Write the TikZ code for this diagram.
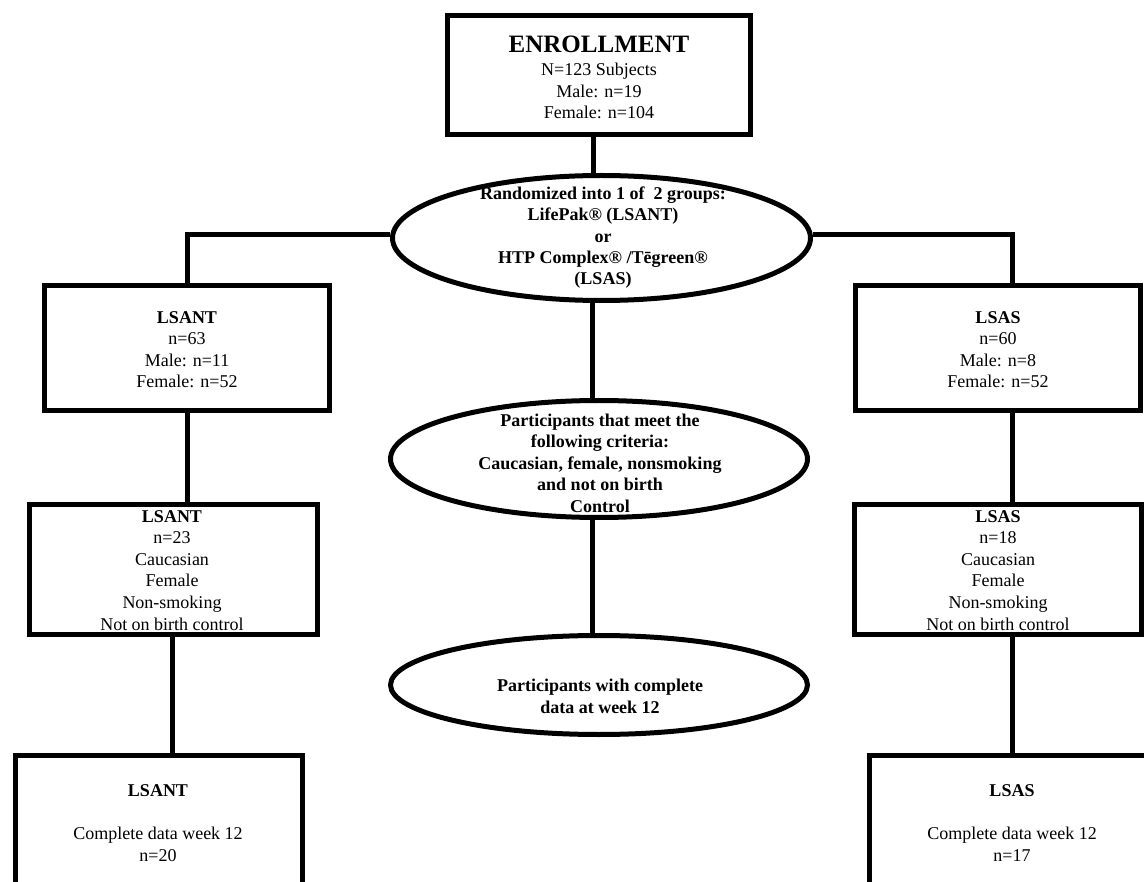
\documentclass[tikz,border=0pt]{standalone}
\usepackage{fontspec}
\setmainfont{Liberation Serif}
\usetikzlibrary{shapes.geometric}
\begin{document}
\begin{tikzpicture}[x=1pt,y=-1pt,
  box/.style={draw,line width=5pt,rectangle,inner sep=0pt},
  oval/.style={draw,line width=5pt,ellipse,inner sep=0pt},
  txt/.style={align=center,inner sep=0pt,anchor=base,font=\fontsize{18}{21.6}\selectfont},
  btxt/.style={txt,font=\fontsize{18}{21.4}\selectfont\bfseries},
  conn/.style={line width=5pt}]
\useasboundingbox (0,0) rectangle (1144,882);
\clip (0,0) rectangle (1144,882);
\fill[white] (0,0) rectangle (1144,882);

% shapes
\node[box,minimum width=303pt,minimum height=119pt] (enr) at (599,75) {};
\node[oval,minimum width=418pt,minimum height=125pt] (e1) at (601.5,238) {};
\node[box,minimum width=285pt,minimum height=125pt] (lsant1) at (187,348) {};
\node[box,minimum width=285pt,minimum height=125pt] (lsas1) at (998,348) {};
\node[oval,minimum width=417pt,minimum height=117pt] (e2) at (599,459) {};
\node[box,minimum width=288pt,minimum height=130pt] (lsant2) at (173.5,569.5) {};
\node[box,minimum width=287pt,minimum height=130pt] (lsas2) at (998,569.5) {};
\node[oval,minimum width=417pt,minimum height=99pt] (e3) at (599,685) {};
\node[box,minimum width=287pt,minimum height=165pt] (lsant3) at (159,838) {};
\node[box,minimum width=285pt,minimum height=165pt] (lsas3) at (1012,838) {};

% texts (anchored at the baseline of the last line)
\node[txt] (tenr) at (599,119) {{\fontsize{25}{25}\selectfont\bfseries ENROLLMENT}\\[1.5pt]N=123 Subjects\\Male: n=19\\Female: n=104};
\node[btxt] (te1) at (603,285) {Randomized into 1 of~ 2 groups:\\LifePak® (LSANT)\\or\\HTP Complex® /Tēgreen®\\(LSAS)};
\node[txt] (tlsant1) at (187,388) {\textbf{LSANT}\\n=63\\Male: n=11\\Female: n=52};
\node[txt] (tlsas1) at (998,388) {\textbf{LSAS}\\n=60\\Male: n=8\\Female: n=52};
\node[btxt] (te2) at (600,512) {Participants that meet the\\following criteria:\\Caucasian, female, nonsmoking\\and not on birth\\Control};
\node[txt] (tlsant2) at (172,630) {\textbf{LSANT}\\n=23\\Caucasian\\Female\\Non-smoking\\Not on birth control};
\node[txt] (tlsas2) at (998,630) {\textbf{LSAS}\\n=18\\Caucasian\\Female\\Non-smoking\\Not on birth control};
\node[btxt] (te3) at (600,713) {Participants with complete\\data at week 12};
\node[txt] (tlsant3) at (158,861) {\textbf{LSANT}\\[21.6pt]Complete data week 12\\n=20};
\node[txt] (tlsas3) at (1012,861) {\textbf{LSAS}\\[21.6pt]Complete data week 12\\n=17};

% connectors
\coordinate (cx) at (593,0);
\coordinate (mx) at (592,0);
\coordinate (lx) at (172,0);
\coordinate (hl) at (0,235);
\coordinate (rx) at (1012,235);
\draw[conn] (enr.south -| cx) -- (e1.north -| cx);
\draw[conn] (e1.south -| mx) -- (e2.north -| mx);
\draw[conn] (e2.south -| mx) -- (e3.north -| mx);
\draw[conn] (e1.west |- hl) -| (lsant1.north);
\draw[conn] (e1.east |- hl) -- (rx) -- (rx |- lsas1.north);
\draw[conn] (lsant1.south) -- (lsant1.south |- lsant2.north);
\draw[conn] (lsant2.south -| lx) -- (lsant3.north -| lx);
\draw[conn] (lsas1.south -| rx) -- (lsas2.north -| rx);
\draw[conn] (lsas2.south -| rx) -- (lsas3.north);
\end{tikzpicture}
\end{document}
